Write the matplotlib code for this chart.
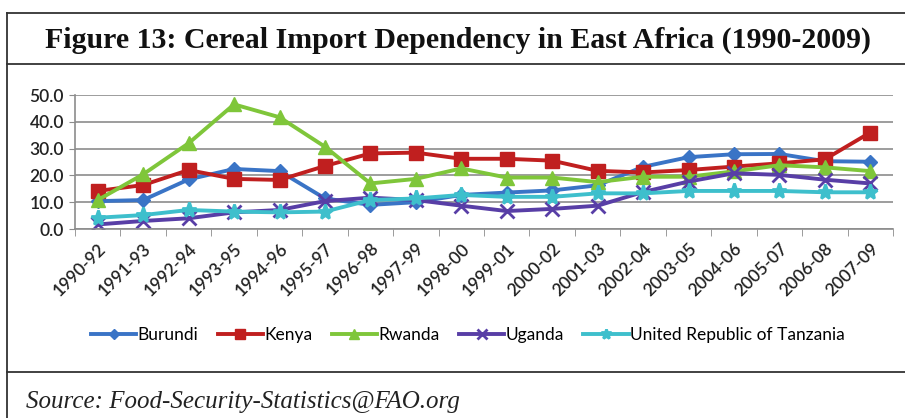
import matplotlib
matplotlib.use("Agg")
import matplotlib.pyplot as plt
from matplotlib.lines import Line2D
import numpy as np

PERIODS = [
    "1990-92", "1991-93", "1992-94", "1993-95", "1994-96", "1995-97",
    "1996-98", "1997-99", "1998-00", "1999-01", "2000-02", "2001-03",
    "2002-04", "2003-05", "2004-06", "2005-07", "2006-08", "2007-09",
]
BURUNDI = [10.4, 10.8, 18.5, 22.4, 21.6, 11.4, 9.0, 10.0, 12.7, 13.6, 14.4, 16.3,
           23.2, 26.8, 27.9, 28.0, 25.3, 25.1]
KENYA = [14.2, 16.4, 22.0, 18.7, 18.3, 23.5, 28.2, 28.5, 26.2, 26.2, 25.5, 21.7,
         21.1, 22.0, 23.3, 24.5, 26.0, 36.0]
RWANDA = [10.8, 20.4, 32.0, 46.5, 41.7, 30.7, 17.0, 18.7, 22.6, 19.2, 19.2, 17.5,
          19.5, 19.5, 21.5, 23.8, 23.0, 21.6]
UGANDA = [1.7, 3.0, 4.0, 6.2, 7.1, 10.4, 11.7, 10.8, 8.7, 6.7, 7.5, 8.7,
          13.8, 17.7, 20.8, 20.2, 18.4, 17.0]
TANZANIA = [4.2, 5.2, 7.1, 6.5, 6.2, 6.5, 10.8, 11.4, 12.7, 12.0, 12.0, 13.3,
            13.3, 14.2, 14.2, 14.2, 13.7, 13.7]
Y_TICKS = [0, 10, 20, 30, 40, 50]

SERIES = [
    ("Burundi", BURUNDI, "#3a74c6", "D", 7.5),
    ("Kenya", KENYA, "#c01f1f", "s", 10),
    ("Rwanda", RWANDA, "#7fc63a", "^", 10),
    ("Uganda", UGANDA, "#583ea6", "x", 10),
    ("United Republic of Tanzania", TANZANIA, "#3ebfcc", "*", 11),
]

SANS = ["Lato", "DejaVu Sans"]
W, H = 905, 418

fig = plt.figure(figsize=(W / 100, H / 100), dpi=100)
fig.patch.set_facecolor("white")


def hline(y, x0=7, x1=905, lw=1.3):
    fig.add_artist(Line2D([x0 / W, x1 / W], [1 - y / H, 1 - y / H],
                          color="#333333", lw=lw, transform=fig.transFigure))


# box around the figure
fig.add_artist(Line2D([7 / W, 7 / W], [0, 1 - 13 / H], color="#333333", lw=1.3,
                      transform=fig.transFigure))
hline(13)
hline(64)
hline(372)

fig.text(458 / W, 1 - 40 / H, "Figure 13: Cereal Import Dependency in East Africa (1990-2009)",
         ha="center", va="center", fontsize=21.5, fontweight="bold",
         family="Liberation Serif", color="#111111")
fig.text(26 / W, 1 - 402 / H, "Source: Food-Security-Statistics@FAO.org",
         ha="left", va="center", fontsize=18, style="italic",
         family="Liberation Serif", color="#222222")

ax = fig.add_axes([75 / W, 1 - 229 / H, (893 - 75) / W, (229 - 95) / H])
ax.set_facecolor("white")
x = np.arange(len(PERIODS))
for name, vals, color, marker, ms in SERIES:
    mew = 2 if marker in ("x", "*") else 1
    ax.plot(x, vals, color=color, lw=2.8, marker=marker, markersize=ms,
            markeredgewidth=mew, label=name, solid_joinstyle="round")

ax.set_xlim(-0.5, len(PERIODS) - 0.5)
ax.set_ylim(0, 50)
ax.set_yticks(Y_TICKS)
ax.set_yticklabels([f"{v:.1f}" for v in Y_TICKS], family=SANS, fontsize=12.5,
                   fontweight="semibold", color="#222222")
ax.yaxis.grid(True, color="#8c8c8c", lw=1.2)
ax.set_axisbelow(True)

ax.set_xticks(x)
ax.set_xticklabels(PERIODS, rotation=45, ha="right", va="top",
                   rotation_mode="anchor", family=SANS, fontsize=12.5,
                   fontweight="semibold", color="#222222")
ax.set_xticks(np.arange(-0.5, len(PERIODS)), minor=True)
ax.tick_params(axis="x", which="major", length=0, pad=8)
ax.tick_params(axis="x", which="minor", length=5, color="#8c8c8c", direction="out")
ax.tick_params(axis="y", length=4, color="#8c8c8c", pad=4)

for side in ("top", "right"):
    ax.spines[side].set_visible(False)
for side in ("left", "bottom"):
    ax.spines[side].set_color("#8c8c8c")
    ax.spines[side].set_linewidth(1.2)

handles, labels = ax.get_legend_handles_labels()
fig.legend(handles, labels, loc="center", bbox_to_anchor=(468 / W, 1 - 335 / H),
           ncols=len(SERIES), frameon=False, handlelength=2.6, handletextpad=0.1,
           columnspacing=1.1, markerscale=0.7,
           prop={"family": SANS, "size": 12.5})

fig.savefig("out.png", dpi=100)
